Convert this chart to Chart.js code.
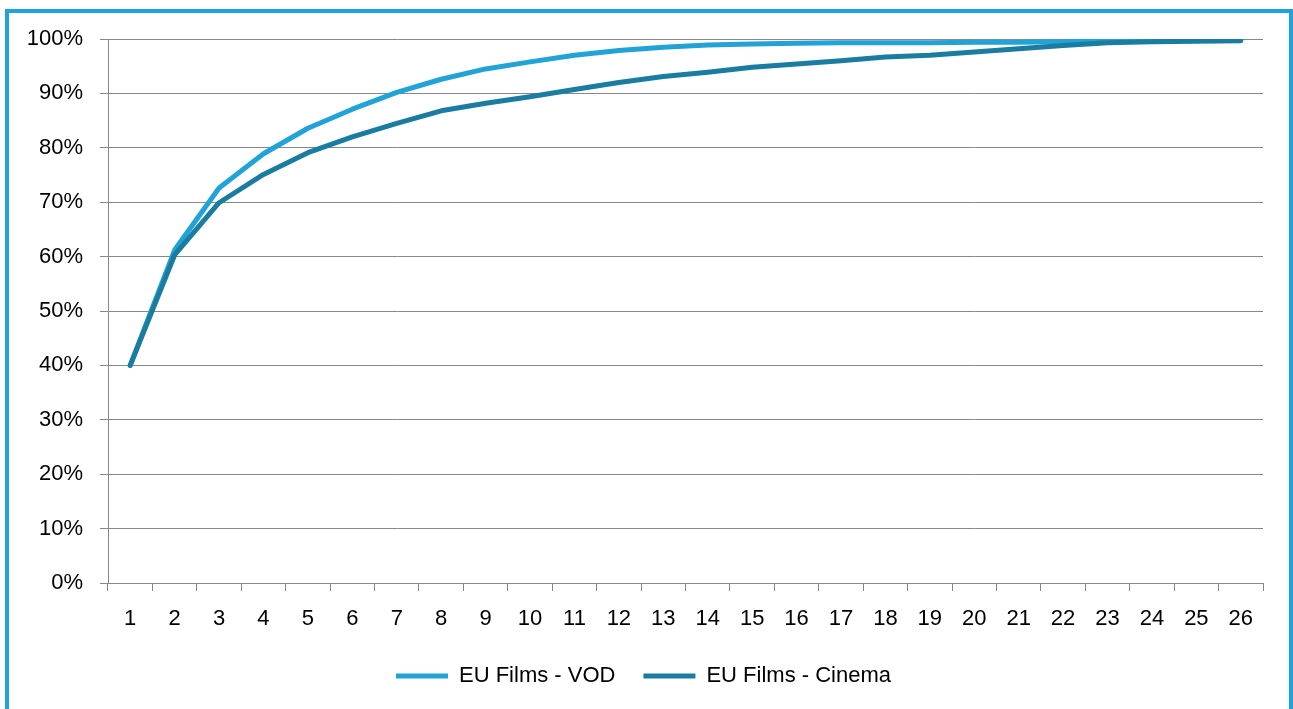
<!DOCTYPE html>
<html>
<head>
<meta charset="utf-8">
<script src="https://cdn.jsdelivr.net/npm/chart.js@4/dist/chart.umd.min.js"></script>
<style>
  html, body { margin: 0; padding: 0; background: #fff; overflow: hidden; }
  #wrap { position: relative; width: 1293px; height: 709px; }
  #frame { position: absolute; left: 5px; top: 9px; width: 1280px; height: 760px;
           border: 4px solid #21a3d9; border-bottom: none; pointer-events: none; box-sizing: content-box; }
  canvas { position: absolute; left: 0; top: 0; }
</style>
</head>
<body>
<div id="wrap">
  <canvas id="c" width="1293" height="709"></canvas>
  <div id="frame"></div>
</div>
<script>
const categories = ['1','2','3','4','5','6','7','8','9','10','11','12','13','14','15','16','17','18','19','20','21','22','23','24','25','26'];
const vodValues = [40.0, 61.2, 72.6, 78.9, 83.6, 87.1, 90.2, 92.6, 94.5, 95.8, 97.0, 97.9, 98.5, 98.9, 99.1, 99.2, 99.3, 99.3, 99.3, 99.4, 99.4, 99.5, 99.6, 99.7, 99.8, 99.9];
const cinemaValues = [40.0, 60.3, 69.9, 75.1, 79.1, 82.0, 84.5, 86.8, 88.2, 89.4, 90.7, 92.0, 93.1, 93.9, 94.8, 95.4, 96.0, 96.7, 97.0, 97.6, 98.2, 98.8, 99.3, 99.5, 99.6, 99.7];
const seriesNames = ['EU Films - VOD', 'EU Films - Cinema'];
const yTickSuffix = '%';

const FONT = 'Liberation Sans, Arial, sans-serif';
const GRID = '#888888';

new Chart(document.getElementById('c'), {
  type: 'line',
  data: {
    labels: categories,
    datasets: [
      { label: seriesNames[0], data: vodValues, borderColor: '#21a3d8', backgroundColor: '#21a3d8',
        borderWidth: 5, pointRadius: 0, tension: 0, borderCapStyle: 'round', borderJoinStyle: 'round', order: 1 },
      { label: seriesNames[1], data: cinemaValues, borderColor: '#1a7ca1', backgroundColor: '#1a7ca1',
        borderWidth: 5, pointRadius: 0, tension: 0, borderCapStyle: 'round', borderJoinStyle: 'round', order: 0 }
    ]
  },
  options: {
    responsive: false,
    animation: false,
    layout: { padding: { left: 24, right: 30, top: 39, bottom: 12 } },
    plugins: {
      tooltip: { enabled: false },
      legend: {
        position: 'bottom',
        labels: {
          usePointStyle: true, pointStyle: 'line', pointStyleWidth: 52,
          padding: 28, color: '#000', font: { family: FONT, size: 22 },
          sort: (a, b) => a.datasetIndex - b.datasetIndex
        }
      }
    },
    scales: {
      x: {
        type: 'category',
        offset: true,
        grid: { offset: true, drawOnChartArea: false, drawTicks: true, tickLength: 8, color: GRID, lineWidth: 1 },
        border: { color: GRID, width: 1 },
        ticks: { color: '#000', font: { family: FONT, size: 22 }, padding: 15, maxRotation: 0, autoSkip: false },
        afterFit: s => { s.height = 54; }
      },
      y: {
        min: 0, max: 100,
        grid: { color: GRID, lineWidth: 1, drawTicks: true, tickLength: 8 },
        border: { color: GRID, width: 1 },
        ticks: { stepSize: 10, color: '#000', font: { family: FONT, size: 22 }, padding: 17,
                 callback: v => v + yTickSuffix },
        afterFit: s => { s.width = 84; }
      }
    }
  }
});
</script>
</body>
</html>
